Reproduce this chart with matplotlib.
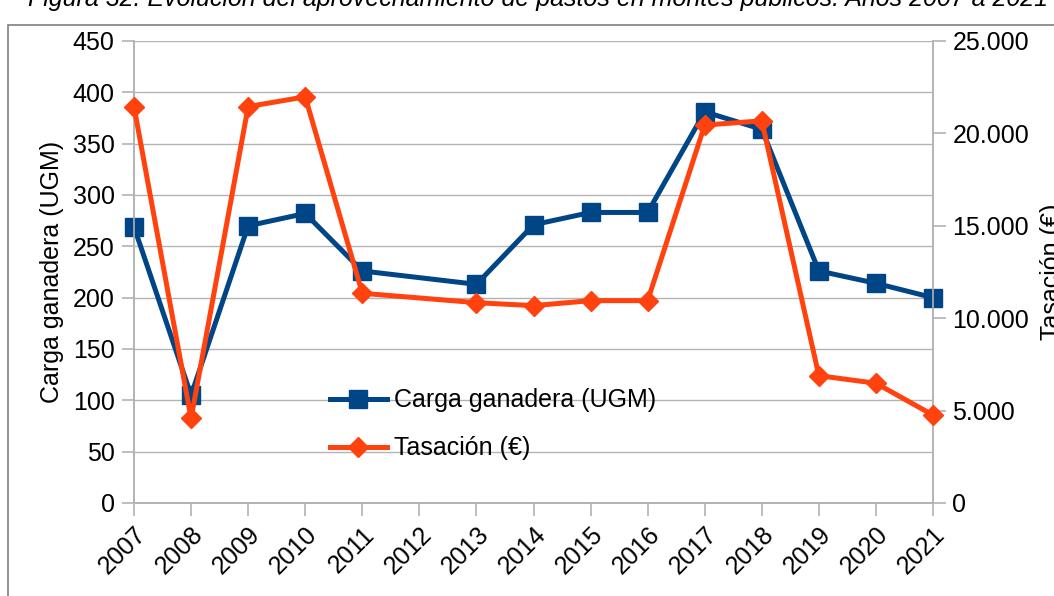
import numpy as np
import matplotlib.pyplot as plt
from matplotlib.patches import Rectangle
from matplotlib.ticker import FuncFormatter

plt.rcParams['font.family'] = ['Liberation Sans', 'DejaVu Sans']

# data
years = ['2007', '2008', '2009', '2010', '2011', '2012', '2013', '2014',
         '2015', '2016', '2017', '2018', '2019', '2020', '2021']
carga = [269, 105, 270, 282, 226, None, 213, 271, 283, 283, 381, 364, 226, 214, 200]
tasacion = [21450, 4580, 21450, 21980, 11350, None, 10840, 10680, 10950, 10950,
            20450, 20680, 6890, 6480, 4760]

title = "Figura 32. Evolución del aprovechamiento de pastos en montes públicos. Años 2007 a 2021"
blue = '#004586'
orange = '#ff420e'
grid_c = '#b3b3b3'
fs = 18

x_all = np.arange(len(years))
xc = [x for x, v in zip(x_all, carga) if v is not None]
yc = [v for v in carga if v is not None]
xt = [x for x, v in zip(x_all, tasacion) if v is not None]
yt = [v for v in tasacion if v is not None]

fig = plt.figure(figsize=(10.54, 5.96), dpi=100)
ax1 = fig.add_axes([134/1054, 1-503/596, (933-134)/1054, (503-41)/596])
ax2 = ax1.twinx()

line1, = ax1.plot(xc, yc, color=blue, lw=3.6, marker='s', ms=13.5,
                  label='Carga ganadera (UGM)', clip_on=False, zorder=3)
line2, = ax2.plot(xt, yt, color=orange, lw=3.6, marker='D', ms=10,
                  label='Tasación (€)', clip_on=False, zorder=3)

ax1.set_xlim(0, len(years) - 1)
ax1.set_ylim(0, 450)
ax1.set_yticks(np.arange(0, 451, 50))
ax2.set_ylim(0, 25000)
ax2.set_yticks(np.arange(0, 25001, 5000))
ax2.yaxis.set_major_formatter(FuncFormatter(lambda v, p: f"{int(v):,}".replace(',', '.')))

ax1.set_xticks(x_all)
ax1.set_xticklabels(years, rotation=45, ha='right', rotation_mode='anchor')
ax1.yaxis.grid(True, color=grid_c, lw=1)
ax1.set_axisbelow(True)

for ax in (ax1, ax2):
    ax.spines['top'].set_visible(False)
    for s in ('left', 'right', 'bottom'):
        ax.spines[s].set_color(grid_c)
        ax.spines[s].set_linewidth(1.2)
    ax.tick_params(colors=grid_c, labelcolor='black', labelsize=fs,
                   length=9, width=1.2)
ax1.tick_params(axis='x', pad=5)
ax1.tick_params(axis='y', pad=5)
ax2.tick_params(axis='y', pad=5)

ax1.set_ylabel('Carga ganadera (UGM)', fontsize=fs, labelpad=6)
ax2.set_ylabel('Tasación (€)', fontsize=fs, rotation=90, labelpad=8)

ax2.legend((line1, line2), ('Carga ganadera (UGM)', 'Tasación (€)'),
           loc='upper left', bbox_to_anchor=((317 - 134)/799, 1 - (376 - 41)/462),
           frameon=False, fontsize=fs, handlelength=2.3, handletextpad=0.3,
           labelspacing=0.95, borderpad=0)

# outer frame and cut-off title
fig.patches.append(Rectangle((8/1054, -0.05), 1.2, 1 - 25/596 + 0.05,
                             transform=fig.transFigure, fill=False,
                             edgecolor='#7f7f7f', lw=1.2))
fig.text(28/1054, 1 - 6/596, title, fontsize=fs, style='italic',
         ha='left', va='baseline')

fig.savefig('out.png', dpi=100)
